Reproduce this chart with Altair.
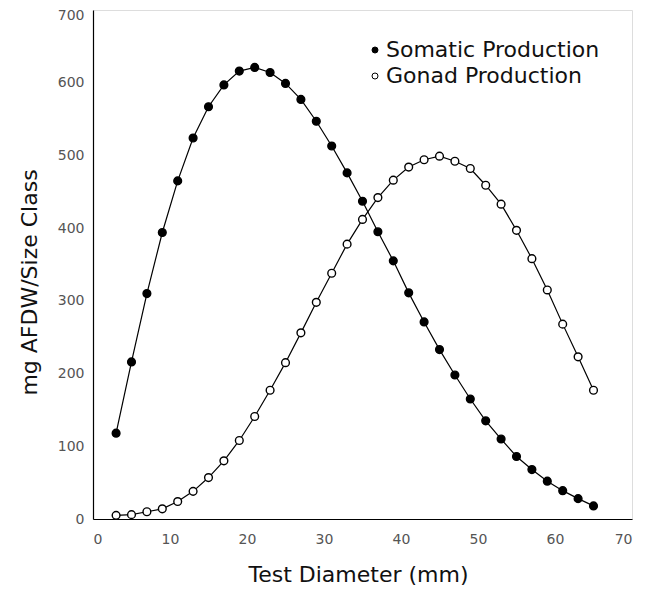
import altair as alt
import pandas as pd

# ---- data ----
diameter = [3, 5, 7, 9, 11, 13, 15, 17, 19, 21, 23, 25, 27, 29, 31, 33,
            35, 37, 39, 41, 43, 45, 47, 49, 51, 53, 55, 57, 59, 61, 63, 65]
somatic = [118, 216, 310, 394, 465, 524, 567, 597, 616, 621, 614, 599, 577, 547, 513, 476,
           437, 395, 355, 311, 271, 233, 198, 165, 135, 110, 86, 68, 52, 39, 28, 18]
gonad = [5, 6, 10, 14, 24, 38, 57, 80, 108, 141, 177, 215, 256, 298, 338, 378,
         412, 442, 466, 484, 494, 499, 492, 482, 459, 433, 397, 358, 315, 268, 223, 177]
series_names = ["Somatic Production", "Gonad Production"]
x_ticks = [0, 10, 20, 30, 40, 50, 60, 70]
y_ticks = [0, 100, 200, 300, 400, 500, 600, 700]

n = len(diameter)
df = pd.DataFrame({
    "diameter": diameter + diameter,
    "value": somatic + gonad,
    "series": [series_names[0]] * n + [series_names[1]] * n,
})

FONT = "DejaVu Sans"

x_enc = alt.X(
    "diameter:Q",
    scale=alt.Scale(domain=[0, 70], nice=False),
    axis=alt.Axis(
        values=x_ticks, grid=False, ticks=False, title="Test Diameter (mm)",
        labelPadding=13, labelFont=FONT, labelFontSize=14, labelColor="#555",
        titleFont=FONT, titleFontSize=22, titleFontWeight="normal", titleColor="#111",
        titleX=265, titleY=62, titleAlign="center", titleBaseline="alphabetic",
        domainColor="black", domainWidth=1.2,
    ),
)
y_enc = alt.Y(
    "value:Q",
    scale=alt.Scale(domain=[0, 700], nice=False),
    axis=alt.Axis(
        values=y_ticks, grid=False, ticks=False, title="mg AFDW/Size Class",
        labelPadding=9, labelFont=FONT, labelFontSize=14, labelColor="#555",
        labelOffset={"condition": {"test": "datum.value == 700", "value": 5}, "value": 0},
        titleFont=FONT, titleFontSize=22, titleFontWeight="normal", titleColor="#111",
        titleAngle=270, titleX=-57, titleY=272, titleAlign="center",
        titleBaseline="alphabetic",
        domainColor="black", domainWidth=1.2,
    ),
)

lines = alt.Chart(df).mark_line(color="black", strokeWidth=1.2).encode(
    x=x_enc, y=y_enc, detail="series:N"
)

points = alt.Chart(df).mark_circle(
    size=60, stroke="black", strokeWidth=1.4, opacity=1
).encode(
    x=x_enc,
    y=y_enc,
    fill=alt.Fill(
        "series:N",
        scale=alt.Scale(domain=series_names, range=["black", "white"]),
        legend=alt.Legend(
            title=None, orient="none", legendX=271, legendY=29,
            labelFont=FONT, labelFontSize=22, labelColor="#111",
            symbolType="circle", symbolSize=36, symbolStrokeColor="black",
            symbolStrokeWidth=1, rowPadding=4, labelOffset=0, padding=0,
            labelLimit=400,
        ),
    ),
)

chart = (
    alt.layer(lines, points)
    .properties(
        width=539, height=509,
        padding={"left": 85, "top": 2, "right": 15, "bottom": 70},
        autosize=alt.AutoSizeParams(type="none"),
    )
    .configure_view(stroke="black", strokeWidth=1)
    .configure(background="white")
)

chart.save("out.html", embed_options={"renderer": "svg", "actions": False})
